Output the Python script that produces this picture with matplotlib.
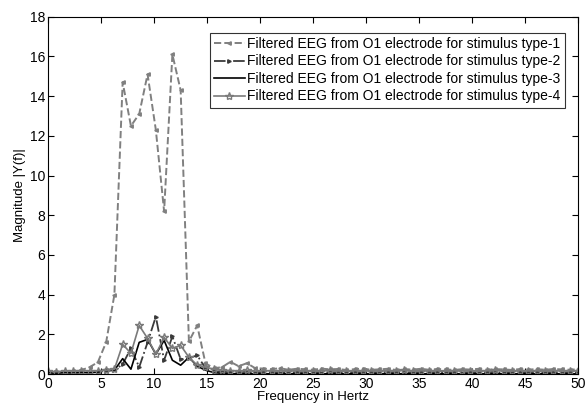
import matplotlib
matplotlib.use('Agg')
from matplotlib import pyplot as plt

plt.rcParams['font.family'] = ['Liberation Sans', 'DejaVu Sans']

# FFT bins (Hz), 0 .. 50 in 0.78125 Hz steps
FREQ = [
    0.00, 0.78, 1.56, 2.34, 3.12, 3.91, 4.69, 5.47, 6.25, 7.03,
    7.81, 8.59, 9.38, 10.16, 10.94, 11.72, 12.50, 13.28, 14.06, 14.84,
    15.62, 16.41, 17.19, 17.97, 18.75, 19.53, 20.31, 21.09, 21.88, 22.66,
    23.44, 24.22, 25.00, 25.78, 26.56, 27.34, 28.12, 28.91, 29.69, 30.47,
    31.25, 32.03, 32.81, 33.59, 34.38, 35.16, 35.94, 36.72, 37.50, 38.28,
    39.06, 39.84, 40.62, 41.41, 42.19, 42.97, 43.75, 44.53, 45.31, 46.09,
    46.88, 47.66, 48.44, 49.22, 50.00,
]

TYPE1 = [
    0.12, 0.10, 0.12, 0.15, 0.20, 0.35, 0.60, 1.60, 4.00, 14.70,
    12.50, 13.10, 15.10, 12.30, 8.20, 16.10, 14.30, 1.65, 2.45, 0.55,
    0.30, 0.35, 0.62, 0.40, 0.55, 0.30, 0.28, 0.25, 0.30, 0.22,
    0.27, 0.25, 0.22, 0.28, 0.24, 0.26, 0.21, 0.25, 0.28, 0.22,
    0.24, 0.27, 0.21, 0.25, 0.23, 0.27, 0.22, 0.26, 0.24, 0.21,
    0.25, 0.23, 0.27, 0.22, 0.25, 0.24, 0.21, 0.26, 0.23, 0.25,
    0.22, 0.26, 0.24, 0.22, 0.25,
]

TYPE2 = [
    0.08, 0.10, 0.08, 0.10, 0.08, 0.10, 0.12, 0.15, 0.20, 0.50,
    1.30, 0.35, 1.60, 2.90, 0.70, 1.90, 0.75, 0.80, 0.95, 0.30,
    0.15, 0.12, 0.10, 0.12, 0.10, 0.09, 0.11, 0.10, 0.08, 0.10,
    0.09, 0.11, 0.10, 0.08, 0.10, 0.09, 0.11, 0.10, 0.09, 0.08,
    0.10, 0.11, 0.09, 0.10, 0.08, 0.10, 0.09, 0.11, 0.10, 0.09,
    0.08, 0.10, 0.09, 0.11, 0.10, 0.08, 0.10, 0.09, 0.10, 0.11,
    0.09, 0.10, 0.08, 0.10, 0.09,
]

TYPE3 = [
    0.06, 0.05, 0.07, 0.06, 0.08, 0.07, 0.10, 0.25, 0.20, 0.78,
    0.25, 1.60, 1.75, 1.00, 1.70, 0.70, 0.45, 0.85, 0.40, 0.20,
    0.08, 0.04, 0.03, 0.02, 0.02, 0.02, 0.02, 0.02, 0.02, 0.02,
    0.02, 0.02, 0.02, 0.02, 0.02, 0.02, 0.02, 0.02, 0.02, 0.02,
    0.02, 0.02, 0.02, 0.02, 0.02, 0.02, 0.02, 0.02, 0.02, 0.02,
    0.02, 0.02, 0.02, 0.02, 0.02, 0.02, 0.02, 0.02, 0.02, 0.02,
    0.02, 0.02, 0.02, 0.02, 0.02,
]

TYPE4 = [
    0.15, 0.12, 0.16, 0.14, 0.18, 0.15, 0.17, 0.20, 0.25, 1.50,
    1.05, 2.45, 1.80, 1.00, 1.85, 1.30, 1.45, 0.85, 0.45, 0.35,
    0.25, 0.20, 0.18, 0.16, 0.19, 0.15, 0.18, 0.16, 0.17, 0.15,
    0.18, 0.16, 0.15, 0.17, 0.19, 0.16, 0.15, 0.18, 0.16, 0.17,
    0.15, 0.18, 0.16, 0.19, 0.15, 0.17, 0.16, 0.18, 0.15, 0.17,
    0.16, 0.18, 0.15, 0.17, 0.19, 0.16, 0.15, 0.18, 0.16, 0.17,
    0.15, 0.18, 0.16, 0.17, 0.15,
]

LABEL = 'Filtered EEG from O1 electrode for stimulus type-{}'


def main():
    fig = plt.figure(figsize=(5.87, 4.08), dpi=100)
    ax = fig.add_axes([0.082, 0.083, 0.903, 0.876])

    ax.plot(FREQ, TYPE1, '--', color='#808080', lw=1.4, marker='<', ms=2.5,
            label=LABEL.format(1))
    ax.plot(FREQ, TYPE2, '-.', color='#3a3a3a', lw=1.3, marker='>', ms=2.5,
            label=LABEL.format(2))
    ax.plot(FREQ, TYPE3, '-', color='black', lw=1.2, label=LABEL.format(3))
    ax.plot(FREQ, TYPE4, '-', color='#7a7a7a', lw=1.2, marker='*', ms=6,
            mfc='none', mec='#7a7a7a', label=LABEL.format(4))

    ax.set_xlim(0, 50)
    ax.set_ylim(0, 18)
    ax.set_xticks(range(0, 51, 5))
    ax.set_yticks(range(0, 19, 2))
    ax.tick_params(direction='in', top=True, right=True, labelsize=10, length=4,
                   pad=2)
    ax.set_xlabel('Frequency in Hertz', fontsize=9.5, labelpad=0)
    ax.set_ylabel('Magnitude |Y(f)|', fontsize=9.5, labelpad=3)

    leg = ax.legend(loc='upper left', bbox_to_anchor=(0.305, 0.955), fontsize=10,
                    frameon=True, fancybox=False, handlelength=2.2,
                    handletextpad=0.2, borderpad=0.3, labelspacing=0.25,
                    borderaxespad=0)
    leg.get_frame().set_edgecolor('black')
    leg.get_frame().set_linewidth(0.8)

    plt.savefig('out.png')


if __name__ == '__main__':
    main()
